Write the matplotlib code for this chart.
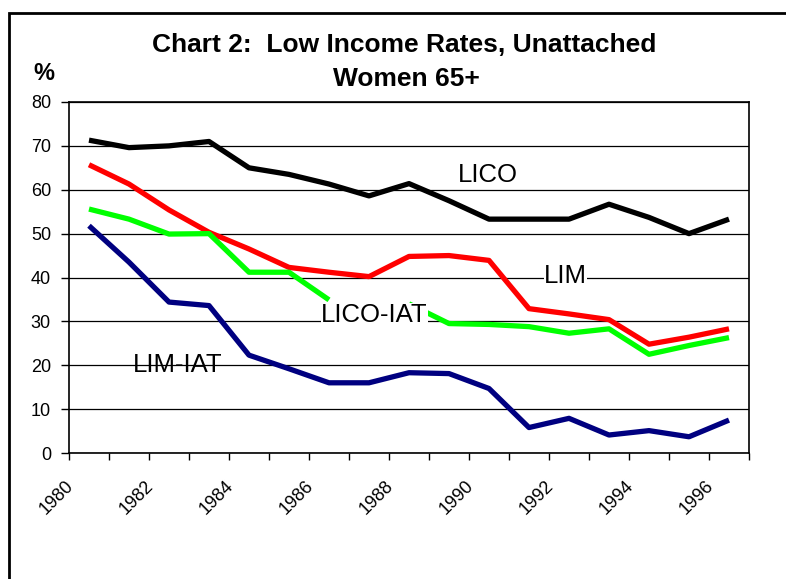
import numpy as np
import matplotlib.pyplot as plt
from matplotlib.patches import Rectangle

plt.rcParams['font.family'] = ['Liberation Sans', 'DejaVu Sans']

# Años (eje de categorías)
anios = list(range(1980, 1997))
etiquetas_x = [str(a) for a in anios[::2]]

# Tasas de bajos ingresos (%)
lico = [71.3, 69.6, 70.0, 71.0, 65.0, 63.5, 61.3, 58.6, 61.4, 57.5, 53.3, 53.3, 53.3, 56.7, 53.7, 50.0, 53.3]
lim = [65.7, 61.3, 55.4, 50.3, 46.5, 42.3, 41.2, 40.2, 44.8, 45.0, 43.9, 32.9, 31.7, 30.4, 24.8, 26.4, 28.3]
lico_iat = [55.6, 53.3, 49.9, 50.0, 41.2, 41.2, 34.9, np.nan, 34.0, 29.5, 29.3, 28.8, 27.3, 28.3, 22.5, 24.5, 26.3]
lim_iat = [51.8, 43.5, 34.4, 33.6, 22.3, 19.2, 16.0, 16.0, 18.3, 18.1, 14.7, 5.8, 7.9, 4.1, 5.1, 3.7, 7.5]

series = [
    ("LICO", lico, "#000000"),
    ("LIM", lim, "#ff0000"),
    ("LICO-IAT", lico_iat, "#00ff00"),
    ("LIM-IAT", lim_iat, "#000080"),
]

fig = plt.figure(figsize=(7.86, 5.79), dpi=100)

# Marco exterior del gráfico
fig.patches.append(Rectangle((9 / 786, -0.1), 1.2, 1 - 13 / 579 + 0.1,
                             transform=fig.transFigure, fill=False,
                             edgecolor='black', linewidth=2))

ax = fig.add_axes([69 / 786, 1 - 453 / 579, (749 - 69) / 786, (453 - 102) / 579])

x = np.arange(len(anios))
for nombre, valores, color in series:
    ax.plot(x, valores, color=color, linewidth=3.8, solid_capstyle='butt', zorder=3)

ax.set_xlim(-0.5, len(anios) - 0.5)
ax.set_ylim(0, 80)
ax.set_yticks(range(0, 81, 10))
ax.yaxis.grid(True, color='black', linewidth=0.9)
ax.set_axisbelow(True)

ax.set_xticks(np.arange(-0.5, len(anios)), minor=False)
ax.set_xticklabels([])
ax.tick_params(axis='x', length=5, width=1, direction='out')
ax.tick_params(axis='y', length=6, width=1, direction='out', labelsize=13, pad=7)
for spine in ax.spines.values():
    spine.set_linewidth(1.2)

# Etiquetas de años rotadas
for i, etiqueta in zip(x[::2], etiquetas_x):
    ax.text(i - 0.45, -6.9, etiqueta, rotation=45, rotation_mode='anchor',
            ha='right', va='center', fontsize=13)

# Etiquetas de las series
ax.text(9.22, 61.8, "LICO", fontsize=18.5, ha='left', va='baseline')
ax.text(11.37, 38.7, "LIM", fontsize=18.5, ha='left', va='baseline',
        bbox=dict(facecolor='white', edgecolor='none', pad=0))
ax.text(5.8, 29.9, "LICO-IAT", fontsize=18.5, ha='left', va='baseline', zorder=4,
        bbox=dict(facecolor='white', edgecolor='none', pad=0))
ax.text(1.1, 18.5, "LIM-IAT", fontsize=18.5, ha='left', va='baseline')

fig.text(404 / 786, 1 - 52 / 579, "Chart 2:  Low Income Rates, Unattached",
         ha='center', va='baseline', fontsize=19, fontweight='bold')
fig.text(406 / 786, 1 - 86 / 579, "Women 65+",
         ha='center', va='baseline', fontsize=19, fontweight='bold')
fig.text(44 / 786, 1 - 80 / 579, "%", ha='center', va='baseline',
         fontsize=17, fontweight='bold')

fig.savefig("out.png", dpi=100)
